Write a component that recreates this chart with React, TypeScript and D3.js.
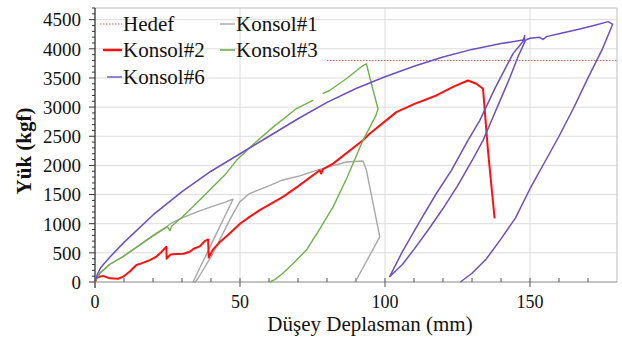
import React, { useEffect, useRef } from 'react'
import * as d3 from 'd3'

type Pt = [number, number | null]

// Yük - deplasman verileri (mm, kgf)
const konsol1: Pt[] = [
  [0,0],[1.6,140],[5,300],[9.7,440],[15,620],[20,800],[25,960],[26,1000],[30,1100],[35,1200],
  [40,1290],[45,1370],[47.6,1420],[40.7,710],[33.8,0],[34.6,0],[35.5,60],[40.7,491],[46.4,1061],
  [49.9,1374],[53.3,1517],[59.1,1631],[64.8,1750],[70.6,1820],[76.3,1916],[81,1980],[86.7,2059],
  [92.4,2076],[93,2000],[93.6,1916],[98.2,775],[90.1,34],[89.5,0]
]
const konsol2: Pt[] = [
  [0,0],[0.5,63],[1.6,91],[2.8,105],[5.1,63],[8,55],[9.7,91],[12,180],[14.3,291],[16,320],
  [18.9,376],[21,430],[23,520],[24.6,604],[24.7,400],[26,470],[28.1,480],[30.5,485],[32.7,520],
  [34,570],[36.1,610],[37.8,700],[39,730],[39.2,420],[40.7,560],[43,680],[46.4,833],[50.1,1004],
  [53.3,1117],[56.8,1232],[64.8,1460],[70,1640],[77.5,1916],[78,1860],[78.5,1930],[82.1,2031],
  [92.4,2430],[94.7,2544],[103.9,2914],[110,3050],[117.7,3200],[124,3360],[128.6,3456],
  [131.5,3400],[133.8,3314],[134.4,2943],[135.5,2259],[137.8,1090]
]
const konsol3: Pt[] = [
  [0,0],[1.6,148],[5,300],[9.7,433],[15,620],[20,790],[25,950],[25.8,880],[26.5,960],[30,1110],
  [35,1350],[40,1600],[45,1850],[48.8,2087],[55,2380],[61.4,2657],[69.4,2972],[75.2,3114],
  [76.5,null],[78.5,3230],[80.9,3285],[87,3500],[92.4,3713],[93.6,3742],[95.3,3400],[97.6,2972],
  [96.8,2850],[92.4,2430],[87,1800],[82.1,1288],[77,870],[72.9,548],[68,300],[64.8,150],[62,40],[60.2,0]
]
const konsol6: Pt[] = [
  [0,0],[0.8,130],[2,250],[5,420],[10,680],[20,1150],[30,1550],[40,1900],[50,2200],[60,2500],
  [70,2800],[80,3080],[90,3320],[100,3520],[110,3700],[120,3860],[130,3990],[140,4090],[147.6,4150],
  [148.2,4225],[148,4150],[144.1,3913],[138,3330],[132.7,2772],[128.6,2430],[122.9,1916],
  [117.7,1518],[112,1040],[106,520],[101.6,91],[106,300],[110,560],[115,900],[120,1260],
  [125,1650],[130,2080],[133.8,2430],[137,2800],[140,3150],[143,3500],[146,3880],[148.5,4150],
  [150,4180],[153.3,4197],[154.5,4160],[155.7,4209],[160,4260],[167.2,4341],[172,4400],
  [177,4466],[178.5,4420],[175,4000],[170,3500],[165,2980],[160,2500],[155,2050],[150,1600],
  [145,1100],[140,740],[135,400],[130,150],[126,0]
]
const hedefLoad = 3800
const hedefFrom = 80

const yTicks = [0, 500, 1000, 1500, 2000, 2500, 3000, 3500, 4000, 4500]
const xTicks = [0, 50, 100, 150]

const series = [
  { name: 'Konsol#1', data: konsol1, color: '#a6a6a6', width: 1.4 },
  { name: 'Konsol#2', data: konsol2, color: '#ff1010', width: 2 },
  { name: 'Konsol#3', data: konsol3, color: '#6fb04a', width: 1.4 },
  { name: 'Konsol#6', data: konsol6, color: '#6a4fbf', width: 1.5 },
]

export default function App() {
  const svgRef = useRef<SVGSVGElement>(null)

  useEffect(() => {
    const W = 622, H = 338
    const m = { l: 95, t: 8, r: 5, b: 56 }
    const svg = d3.select(svgRef.current).attr('width', W).attr('height', H)
    svg.selectAll('*').remove()
    const font = "'Liberation Serif', 'Times New Roman', serif"

    const x = d3.scaleLinear().domain([0, 180]).range([m.l, W - m.r])
    const y = d3.scaleLinear().domain([0, 4700]).range([H - m.b, m.t])

    // grid
    const grid = svg.append('g')
    grid.selectAll('line.h').data(yTicks.slice(1)).join('line')
      .attr('x1', x(0)).attr('x2', x(180)).attr('y1', d => y(d)).attr('y2', d => y(d))
      .attr('stroke', '#dcdcdc').attr('stroke-width', 1)
    grid.selectAll('line.v').data(xTicks.slice(1)).join('line')
      .attr('y1', y(0)).attr('y2', y(4700)).attr('x1', d => x(d)).attr('x2', d => x(d))
      .attr('stroke', '#dcdcdc').attr('stroke-width', 1)
    // frame (top + right)
    svg.append('path').attr('d', `M${x(0)},${y(4700)}H${x(180)}V${y(0)}`)
      .attr('fill', 'none').attr('stroke', '#bdbdbd')

    // y axis with minor ticks
    const yAxis = svg.append('g')
    yAxis.append('line').attr('x1', x(0)).attr('x2', x(0)).attr('y1', y(4700)).attr('y2', y(0) + 6)
      .attr('stroke', '#222').attr('stroke-width', 1.2)
    yAxis.selectAll('line.minor').data(d3.range(0, 4701, 100)).join('line')
      .attr('x1', d => x(0) - (d % 500 === 0 ? 6 : 3)).attr('x2', x(0))
      .attr('y1', d => y(d)).attr('y2', d => y(d)).attr('stroke', '#333')
    yAxis.selectAll('text').data(yTicks).join('text')
      .attr('x', 81).attr('y', d => y(d)).attr('dy', '0.36em')
      .attr('text-anchor', 'end').attr('font-family', font).attr('font-size', 19).attr('fill', '#111')
      .text(d => d)

    // x axis with minor ticks
    const xAxis = svg.append('g')
    xAxis.append('line').attr('x1', x(0)).attr('x2', x(180)).attr('y1', y(0)).attr('y2', y(0))
      .attr('stroke', '#888').attr('stroke-width', 1)
    xAxis.selectAll('line.minor').data(d3.range(10, 180, 10)).join('line')
      .attr('x1', d => x(d)).attr('x2', d => x(d))
      .attr('y1', d => y(0) + (d % 50 === 0 ? 5 : 0)).attr('y2', y(0) - 4)
      .attr('stroke', '#555')
    xAxis.selectAll('text').data(xTicks).join('text')
      .attr('x', d => x(d)).attr('y', 308)
      .attr('text-anchor', 'middle').attr('font-family', font).attr('font-size', 18).attr('fill', '#111')
      .text(d => d)

    svg.append('text').attr('x', 370).attr('y', 331).attr('text-anchor', 'middle')
      .attr('font-family', font).attr('font-size', 21).attr('fill', '#111')
      .text('Düşey Deplasman (mm)')
    svg.append('text').attr('transform', 'translate(31,151) rotate(-90)').attr('text-anchor', 'middle')
      .attr('font-family', font).attr('font-size', 21).attr('font-weight', 'bold').attr('fill', '#111')
      .text('Yük (kgf)')

    // hedef
    svg.append('line').attr('x1', x(hedefFrom)).attr('x2', x(180))
      .attr('y1', y(hedefLoad)).attr('y2', y(hedefLoad))
      .attr('stroke', '#e05050').attr('stroke-width', 1).attr('stroke-dasharray', '1.5,1.5')

    const line = d3.line<Pt>()
      .defined(d => d[1] !== null)
      .x(d => x(d[0])).y(d => y(d[1] as number))
    svg.append('g').selectAll('path').data(series).join('path')
      .attr('d', d => line(d.data))
      .attr('fill', 'none').attr('stroke', d => d.color).attr('stroke-width', d => d.width)
      .attr('stroke-linejoin', 'round')

    // legend
    const legend = [
      { name: 'Hedef', color: '#e05050', width: 1, dash: '1.5,1.5', lx: 100, tx: 123, by: 31 },
      { name: 'Konsol#1', color: '#a6a6a6', width: 1.4, dash: null, lx: 220, tx: 236, by: 31 },
      { name: 'Konsol#2', color: '#ff1010', width: 2.5, dash: null, lx: 103, tx: 123, by: 57 },
      { name: 'Konsol#3', color: '#6fb04a', width: 1.6, dash: null, lx: 220, tx: 236, by: 57 },
      { name: 'Konsol#6', color: '#6a4fbf', width: 1.4, dash: null, lx: 107, tx: 123, by: 84 },
    ]
    const lg = svg.append('g')
    legend.forEach(it => {
      lg.append('line').attr('x1', it.lx).attr('x2', it.tx - 1).attr('y1', it.by - 7).attr('y2', it.by - 7)
        .attr('stroke', it.color).attr('stroke-width', it.width)
        .attr('stroke-dasharray', it.dash)
      lg.append('text').attr('x', it.tx).attr('y', it.by)
        .attr('font-family', font).attr('font-size', 21).attr('fill', '#111').text(it.name)
    })
  }, [])

  return (
    <div>
      <svg ref={svgRef} style={{ position: 'absolute', left: 0, top: 0, background: '#fff' }} />
    </div>
  )
}
